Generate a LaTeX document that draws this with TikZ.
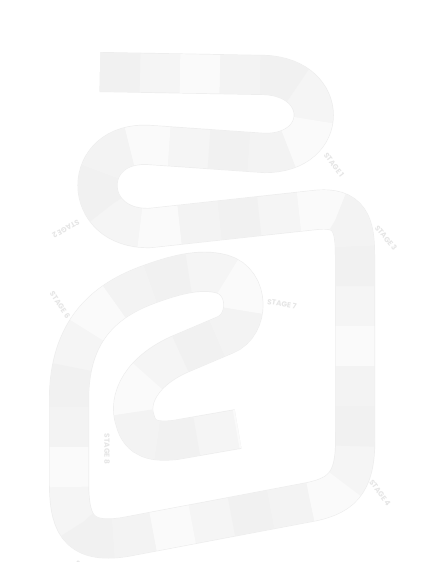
\documentclass[tikz,border=0pt]{standalone}
\usepackage{fontspec}
\newfontfamily\labfont{Poppins}
\definecolor{edgec}{HTML}{EEEEEE}
\definecolor{basec}{HTML}{F5F5F5}
\definecolor{tileA}{HTML}{F1F1F1}
\definecolor{tileB}{HTML}{FAFAFA}
\definecolor{tileC}{HTML}{F3F3F3}
\definecolor{labc}{HTML}{E6E6E6}
\tikzset{
  track/.style={
    preaction={draw=edgec, line width=40},
    preaction={draw=basec, line width=38.6},
    postaction={draw=tileA, line width=38.6, dash pattern=on 40 off 120},
    postaction={draw=tileB, line width=38.6, dash pattern=on 40 off 120, dash phase=-80},
    postaction={draw=tileC, line width=38.6, dash pattern=on 40 off 120, dash phase=-120}
  },
  stagelab/.style={text=labc, font=\labfont\bfseries\fontsize{7.4}{8}\selectfont, inner sep=0pt}
}
\begin{document}
\begin{tikzpicture}[x=1pt,y=-1pt]
\useasboundingbox (0,0) rectangle (424,562);
\fill[white] (0,0) rectangle (424,562);
\clip (0,0) rectangle (424,562);
\path[track] (100,72) -- (265,75)
  .. controls (330,78) and (330,153) .. (265,153)
  -- (150,145)
  .. controls (80,140) and (80,230) .. (150,228)
  -- (315,210)
  .. controls (350,206) and (355,225) .. (355,255)
  -- (355,430)
  .. controls (357,480) and (345,495) .. (310,502)
  -- (125,537)
  .. controls (75,545) and (69,520) .. (69,480)
  -- (69,400)
  .. controls (69,330) and (105,300) .. (150,284)
  .. controls (175,275) and (200,268) .. (222,274)
  .. controls (250,282) and (250,325) .. (225,335)
  -- (185,352)
  .. controls (140,370) and (128,400) .. (135,420)
  .. controls (140,440) and (155,442) .. (175,440)
  -- (238,429);
\node[stagelab, rotate=-53] (s1) at (334,165) {STAGE 1};
\node[stagelab, rotate=-151] (s2) at (66,229) {STAGE 2};
\node[stagelab, rotate=-51] (s3) at (386,238) {STAGE 3};
\node[stagelab, rotate=-54] (s4) at (380,493) {STAGE 4};
\node[stagelab, rotate=-50] (s5) at (86,573) {STAGE 5};
\node[stagelab, rotate=-56] (s6) at (60,305) {STAGE 6};
\node[stagelab, rotate=-10] (s7) at (282,304) {STAGE 7};
\node[stagelab, rotate=-90] (s8) at (107,449) {STAGE 8};
\end{tikzpicture}
\end{document}
